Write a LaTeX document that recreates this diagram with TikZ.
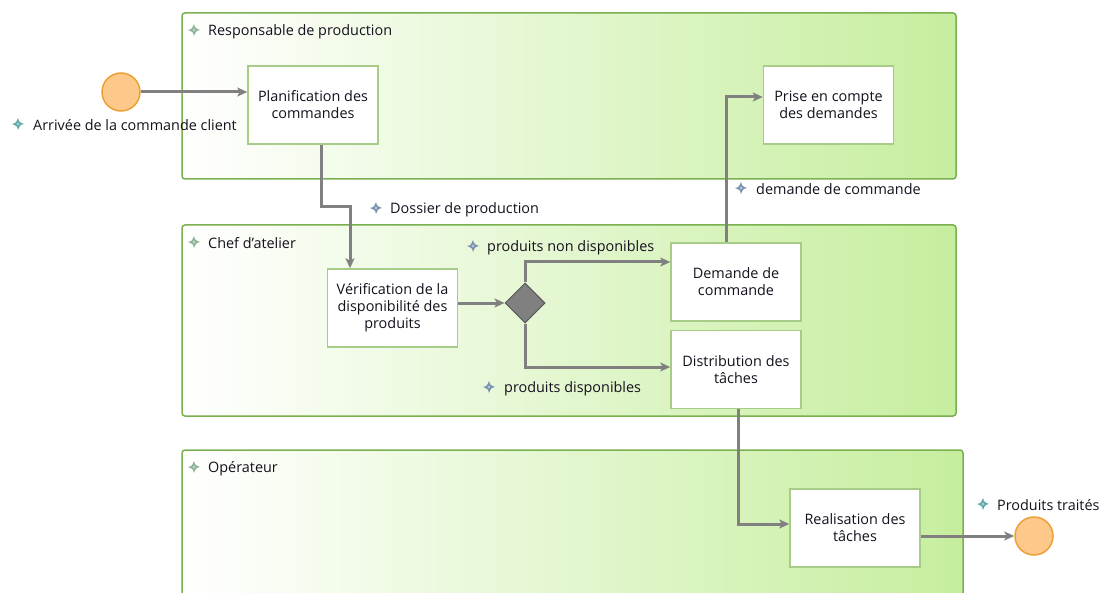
\documentclass[tikz,border=0pt]{standalone}
\usepackage{fontspec}
\setmainfont{Open Sans}
\usepackage{xcolor}
\usetikzlibrary{arrows.meta, positioning, shapes.geometric, calc}

\definecolor{laneline}{RGB}{122,176,80}
\definecolor{lanegreen}{RGB}{198,238,158}
\definecolor{boxline}{RGB}{166,204,136}
\definecolor{flowgrey}{RGB}{128,128,128}
\definecolor{evfill}{RGB}{253,201,138}
\definecolor{evline}{RGB}{238,160,56}
\definecolor{txt}{RGB}{22,16,30}
\definecolor{iconev}{RGB}{90,168,168}
\definecolor{iconflow}{RGB}{120,144,176}
\definecolor{iconlane}{RGB}{140,176,150}

% four-pointed marker in front of labels
\newcommand{\spark}[2]{%
  \fill[#2, shift={(#1)}] (-6,0) .. controls (-2,-1) .. (0,-6)
    .. controls (1,-2) .. (6,0) .. controls (2,1) .. (0,6)
    .. controls (-1,2) .. (-6,0) -- cycle;
  \fill[white, opacity=0.45, shift={(#1)}] (0,0) circle (1.6);}

\begin{document}
\begin{tikzpicture}[
  x=1pt, y=-1pt,
  font=\fontsize{14.4}{17}\selectfont, text=txt,
  lane/.style={draw=laneline, line width=1.5pt, rounded corners=3pt,
    left color=white, right color=lanegreen},
  task/.style={rectangle, draw=boxline, line width=1.5pt, fill=white,
    minimum width=130, minimum height=78, align=center, inner sep=2pt},
  event/.style={circle, draw=evline, line width=1.5pt, fill=evfill, minimum size=38},
  gate/.style={diamond, draw=black!65, line width=1pt, fill=black!50,
    minimum size=40, inner sep=0pt},
  flow/.style={-{Stealth[length=10pt, width=9pt, inset=2.5pt]}, line width=3pt, flowgrey},
  lbl/.style={anchor=west, inner sep=0pt, yshift=-1.5pt}
]
  \clip (0,0) rectangle (1099,593);
  \useasboundingbox (0,0) rectangle (1099,593);

  % lanes
  \draw[lane] (182,13) rectangle (956,179);
  \draw[lane] (182,225) rectangle (956,416);
  \draw[lane] (182,450) rectangle (963,620);
  \spark{194,30}{iconlane}
  \node[lbl] (t-resp) at (208,30) {Responsable de production};
  \spark{194,242}{iconlane}
  \node[lbl] (t-chef) at (208,242) {Chef d'atelier};
  \spark{194,467}{iconlane}
  \node[lbl] (t-oper) at (208,467) {Opérateur};

  % events, tasks, gateway
  \node[event] (start) at (121,92) {};
  \node[task] (plan) at (313,105) {Planification des\\commandes};
  \node[task] (prise) at (828.5,105) {Prise en compte\\des demandes};
  \node[task] (verif) at (392.5,308) {Vérification de la\\disponibilité des\\produits};
  \node[gate] (gw) at (525,303) {};
  \node[task] (dem) at (736,282) {Demande de\\commande};
  \node[task] (distr) at (736,369.5) {Distribution des\\tâches};
  \node[task] (real) at (855,528) {Realisation des\\tâches};
  \node[event] (end) at (1034,536) {};

  % bends
  \coordinate (b1) at (321,207);
  \coordinate (b2) at (350,207);

  % flows
  \draw[flow] (start) -- (plan.west |- start);
  \draw[flow] (plan.south -| b1) -- (b1) -- (b2) -- (verif.north -| b2);
  \draw[flow] (verif.east |- gw) -- (gw.west);
  \draw[flow] (gw.north) |- ($(dem.west)+(0,-20)$);
  \draw[flow] (gw.south) |- ($(distr.west)+(0,-2.5)$);
  \draw[flow] ($(dem.north)+(-10,0)$) |- ($(prise.west)+(0,-8)$);
  \draw[flow] ($(distr.south)+(2,0)$) |- ($(real.west)+(0,-4)$);
  \draw[flow] (real.east |- end) -- (end);

  % labels
  \spark{18,124}{iconev}
  \node[lbl] (l-arr) at (33,124) {Arrivée de la commande client};
  \spark{376,208}{iconflow}
  \node[lbl] (l-doss) at (390,208) {Dossier de production};
  \spark{473,246}{iconflow}
  \node[lbl] (l-nondisp) at (487,246) {produits non disponibles};
  \spark{489,387}{iconflow}
  \node[lbl] (l-disp) at (504,387) {produits disponibles};
  \spark{741,188}{iconflow}
  \node[lbl] (l-dem) at (756,188) {demande de commande};
  \spark{983,504}{iconev}
  \node[lbl] (l-trait) at (997,504) {Produits traités};
\end{tikzpicture}
\end{document}
